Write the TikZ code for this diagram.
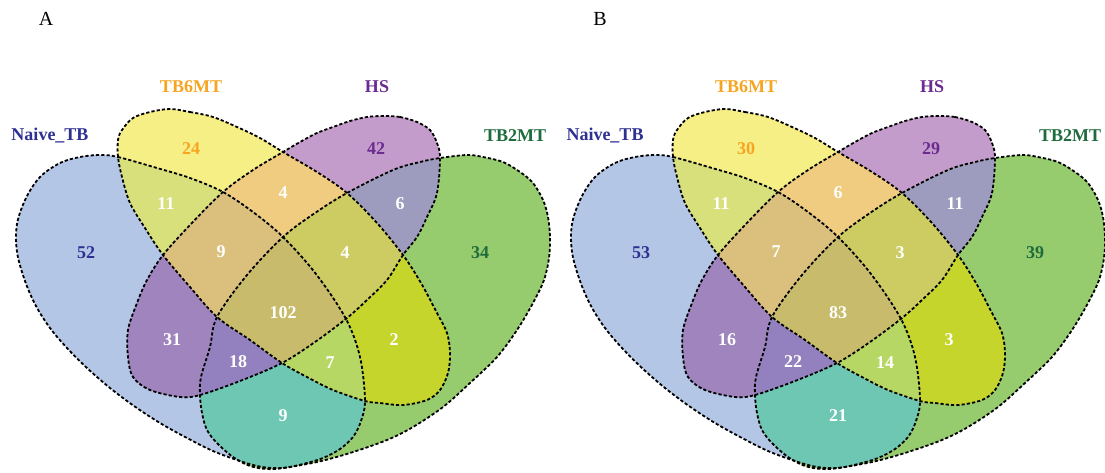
\documentclass[tikz,border=0pt]{standalone}
\usepackage{fontspec}
\setmainfont{Liberation Serif}
\definecolor{cN}{HTML}{B3C6E6}
\definecolor{cY}{HTML}{F5EF85}
\definecolor{cH}{HTML}{C49CCB}
\definecolor{cG}{HTML}{97CC6E}
\definecolor{cNY}{HTML}{D8E07C}
\definecolor{cYH}{HTML}{EFCC80}
\definecolor{cHG}{HTML}{9D9CBF}
\definecolor{cNH}{HTML}{9F84BD}
\definecolor{cNG}{HTML}{6DC7B3}
\definecolor{cYG}{HTML}{C5D52C}
\definecolor{cNYH}{HTML}{DBBF7D}
\definecolor{cYHG}{HTML}{CDCC62}
\definecolor{cNHG}{HTML}{9381BF}
\definecolor{cNYG}{HTML}{B7D764}
\definecolor{cAll}{HTML}{C8BB6C}
\definecolor{tN}{HTML}{2E3192}
\definecolor{tY}{HTML}{F7A521}
\definecolor{tH}{HTML}{6B2C91}
\definecolor{tG}{HTML}{1E6B3C}
\def\shN{plot[smooth cycle,tension=0.55] coordinates {(100,155) (118,157) (157,168) (190,178) (223,192) (253,212) (283,237) (316,274) (346,319) (360,357) (365,400) (361,421) (353,437) (340,449) (323,458) (303,464) (283,468) (262,467) (240,461) (213,451) (187,438) (160,423) (134,406) (110,388) (87,368) (67,348) (50,328) (36,306) (25,281) (17,252) (17,224) (26,198) (40,177) (60,163) (80,157)}}
\def\shY{plot[smooth cycle,tension=0.55] coordinates {(170,109) (190,112) (213,117) (237,127) (260,138) (283,152) (317,172) (347,193) (377,223) (403,255) (421,283) (437,313) (447,333) (450,353) (448,373) (440,390) (427,400) (403,405) (380,403) (365,401) (333,390) (307,377) (282,363) (250,340) (217,317) (190,287) (163,255) (145,228) (130,203) (122,177) (118,157) (118,140) (122,130) (133,118) (150,112)}}
\def\shH{plot[smooth cycle,tension=0.55] coordinates {(383,116) (400,117) (417,122) (430,130) (437,143) (440,158) (437,193) (427,217) (417,237) (403,255) (387,280) (367,300) (347,318) (315,342) (282,363) (240,381) (200,395) (180,397) (150,390) (133,377) (128,357) (128,330) (137,303) (147,280) (163,255) (190,225) (223,192) (253,170) (283,152) (300,142) (317,133) (333,127) (350,121) (367,117)}}
\def\shG{plot[smooth cycle,tension=0.55] coordinates {(440,158) (467,155) (483,157) (503,162) (520,172) (533,183) (543,200) (548,217) (550,237) (549,258) (544,280) (533,303) (517,330) (497,357) (470,383) (443,407) (413,427) (387,440) (350,453) (317,462) (283,468) (267,469) (250,466) (233,457) (217,443) (207,430) (202,413) (200,395) (201,377) (210,347) (217,317) (247,275) (283,237) (315,213) (347,193) (393,170) (420,162)}}
\newcommand\RegB[3]{\begin{scope}\clip #2;\fill[#1] #3;\end{scope}}
\newcommand\RegC[4]{\begin{scope}\clip #2;\clip #3;\fill[#1] #4;\end{scope}}
\newcommand\RegD[5]{\begin{scope}\clip #2;\clip #3;\clip #4;\fill[#1] #5;\end{scope}}
\newcommand\VennShapes{%
  \fill[cN] \shN; \fill[cY] \shY; \fill[cH] \shH; \fill[cG] \shG;
  \RegB{cNY}{\shN}{\shY}
  \RegB{cYH}{\shY}{\shH}
  \RegB{cHG}{\shH}{\shG}
  \RegB{cNH}{\shN}{\shH}
  \RegB{cNG}{\shN}{\shG}
  \RegB{cYG}{\shY}{\shG}
  \RegC{cNYH}{\shN}{\shY}{\shH}
  \RegC{cYHG}{\shY}{\shH}{\shG}
  \RegC{cNHG}{\shN}{\shH}{\shG}
  \RegC{cNYG}{\shN}{\shY}{\shG}
  \RegD{cAll}{\shN}{\shY}{\shH}{\shG}
  \draw[outline] \shN; \draw[outline] \shY; \draw[outline] \shH; \draw[outline] \shG;
}
\tikzset{
  outline/.style={draw=black,line width=1.8pt,dash pattern=on 3.2pt off 2.1pt},
  setlbl/.style={font=\fontsize{18}{20}\selectfont\bfseries,inner sep=0pt},
  num/.style={font=\fontsize{18}{20}\selectfont\bfseries,inner sep=0pt,text=white},
  panel/.style={font=\fontsize{20}{22}\selectfont,inner sep=0pt}
}
\begin{document}
\begin{tikzpicture}[x=1pt,y=-1pt]
\useasboundingbox (0,0) rectangle (1105,472);
\fill[white] (0,0) rectangle (1105,472);
% Panel A
\begin{scope}
\VennShapes
\node[panel] (pA) at (46,19) {A};
\node[setlbl,text=tN] (lNa) at (50,136) {Naive\_TB};
\node[setlbl,text=tY] (lYa) at (191,87) {TB6MT};
\node[setlbl,text=tH] (lHa) at (377,87) {HS};
\node[setlbl,text=tG] (lGa) at (515,136) {TB2MT};
\node[setlbl,text=tY] (a1) at (191,149) {24};
\node[setlbl,text=tH] (a2) at (376,149) {42};
\node[setlbl,text=tN] (a3) at (86,253) {52};
\node[setlbl,text=tG] (a4) at (480,253) {34};
\node[num] (a5) at (166,204) {11};
\node[num] (a6) at (283,193) {4};
\node[num] (a7) at (400,204) {6};
\node[num] (a8) at (221,252) {9};
\node[num] (a9) at (345,253) {4};
\node[num] (a10) at (283,313) {102};
\node[num] (a11) at (172,340) {31};
\node[num] (a12) at (238,362) {18};
\node[num] (a13) at (330,363) {7};
\node[num] (a14) at (394,340) {2};
\node[num] (a15) at (283,416) {9};
\end{scope}
% Panel B
\begin{scope}[xshift=555pt]
\VennShapes
\node[panel] (pB) at (45,19) {B};
\node[setlbl,text=tN] (lNb) at (50,136) {Naive\_TB};
\node[setlbl,text=tY] (lYb) at (191,87) {TB6MT};
\node[setlbl,text=tH] (lHb) at (377,87) {HS};
\node[setlbl,text=tG] (lGb) at (515,136) {TB2MT};
\node[setlbl,text=tY] (b1) at (191,149) {30};
\node[setlbl,text=tH] (b2) at (376,149) {29};
\node[setlbl,text=tN] (b3) at (86,253) {53};
\node[setlbl,text=tG] (b4) at (480,253) {39};
\node[num] (b5) at (166,204) {11};
\node[num] (b6) at (283,193) {6};
\node[num] (b7) at (400,204) {11};
\node[num] (b8) at (221,252) {7};
\node[num] (b9) at (345,253) {3};
\node[num] (b10) at (283,313) {83};
\node[num] (b11) at (172,340) {16};
\node[num] (b12) at (238,362) {22};
\node[num] (b13) at (330,363) {14};
\node[num] (b14) at (394,340) {3};
\node[num] (b15) at (283,416) {21};
\end{scope}
\end{tikzpicture}
\end{document}
